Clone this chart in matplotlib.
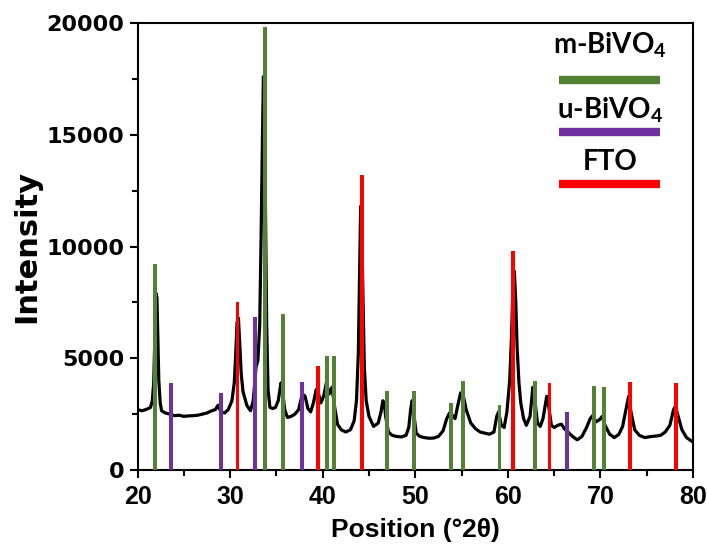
import numpy as np
import matplotlib
matplotlib.use("Agg")
import matplotlib.pyplot as plt
from matplotlib.ticker import MultipleLocator

plt.rcParams['mathtext.fontset'] = 'custom'
plt.rcParams['mathtext.rm'] = 'Lato:bold'
plt.rcParams['mathtext.bf'] = 'Lato:bold'

# measured pattern (2theta, counts)
two_theta = [20.0, 20.5, 21.0, 21.4, 21.6, 21.75, 21.85, 22.0, 22.1, 22.2, 22.3, 22.45, 22.6,
             23.0, 23.5, 24.0, 24.5, 25.0, 25.5, 26.0, 26.5, 27.0, 27.5, 28.0, 28.4, 28.7,
             29.0, 29.4, 29.8, 30.2, 30.45, 30.6, 30.75, 30.9, 31.05, 31.2, 31.4, 31.8, 32.2,
             32.5, 32.8, 33.0, 33.2, 33.35, 33.5, 33.6, 33.7, 33.8, 33.95, 34.1, 34.3, 34.6,
             34.9, 35.2, 35.5, 35.65, 35.9, 36.2, 36.6, 37.0, 37.4, 37.8, 38.1, 38.4, 38.7,
             39.0, 39.3, 39.5, 39.8, 40.1, 40.4, 40.7, 41.0, 41.3, 41.6, 42.0, 42.5, 43.0,
             43.4, 43.65, 43.85, 44.0, 44.1, 44.2, 44.35, 44.5, 44.7, 45.0, 45.5, 46.0, 46.3,
             46.5, 46.65, 46.8, 47.1, 47.5, 48.0, 48.5, 49.0, 49.3, 49.5, 49.65, 49.85, 50.1,
             50.5, 51.0, 51.5, 52.0, 52.5, 53.0, 53.4, 53.7, 54.0, 54.3, 54.6, 54.9, 55.2,
             55.5, 56.0, 56.5, 57.0, 57.5, 58.0, 58.5, 58.8, 59.0, 59.3, 59.6, 59.9, 60.2,
             60.4, 60.55, 60.7, 60.85, 61.0, 61.2, 61.4, 61.7, 62.0, 62.4, 62.7, 62.9, 63.2,
             63.5, 63.8, 64.2, 64.4, 64.7, 65.0, 65.4, 65.8, 66.1, 66.5, 67.0, 67.5, 68.0,
             68.5, 68.9, 69.2, 69.5, 69.9, 70.2, 70.5, 71.0, 71.5, 72.0, 72.4, 72.8, 73.05,
             73.3, 73.7, 74.2, 74.8, 75.5, 76.0, 76.5, 77.0, 77.5, 77.9, 78.1, 78.4, 78.8,
             79.3, 80.0]
counts = [2700, 2650, 2720, 2800, 3100, 3900, 5600, 7900, 7700, 5800, 4000, 3000, 2650,
          2550, 2500, 2430, 2450, 2400, 2420, 2430, 2450, 2500, 2550, 2650, 2700, 2900,
          2600, 2550, 2700, 3100, 3900, 5100, 6600, 6800, 5600, 4300, 3500, 2900, 2650,
          3100, 4600, 4900, 6500, 10500, 15000, 17600, 16800, 12500, 6500, 3600, 2800, 2750,
          2800, 3100, 3900, 3600, 2700, 2350, 2400, 2500, 2700, 3400, 3300, 2750, 2600,
          3000, 3600, 3500, 3000, 3300, 3900, 3400, 3700, 2800, 2050, 1800, 1700, 1800,
          2200, 3100, 5200, 9000, 11800, 11400, 7800, 4600, 3100, 2400, 1950, 2100, 2600,
          3100, 3000, 2400, 1700, 1550, 1500, 1480, 1550, 1900, 2700, 3100, 2500, 1650,
          1500, 1450, 1420, 1430, 1500, 1750, 2300, 2550, 2450, 2300, 2900, 3450, 3300,
          2700, 2100, 1850, 1700, 1650, 1600, 1700, 2400, 2600, 2000, 1900, 2600, 4000,
          6000, 8200, 8900, 7600, 5500, 3900, 3000, 2300, 2000, 2400, 3700, 3200, 2100,
          1950, 2300, 3300, 2900, 2000, 1900, 2000, 2050, 1850, 1700, 1500, 1350, 1500,
          1900, 2300, 2450, 2150, 2250, 2400, 2000, 1600, 1450, 1600, 1950, 2800, 3300,
          2600, 1800, 1550, 1450, 1500, 1520, 1550, 1700, 2000, 2700, 2850, 2400, 1800,
          1450, 1250]

# reference line positions and intensities
m_pos = [21.9, 33.8, 35.7, 40.5, 41.25, 46.9, 49.9, 53.85, 55.2, 59.1, 62.9, 69.3, 70.4]
m_int = [9200, 19800, 7000, 5100, 5100, 3550, 3550, 3000, 4000, 2900, 4000, 3750, 3700]
u_pos = [23.6, 29.0, 32.7, 37.8, 66.35]
u_int = [3900, 3450, 6850, 3950, 2580]
fto_pos = [30.8, 39.5, 44.2, 60.6, 64.5, 73.2, 78.2]
fto_int = [7500, 4650, 13200, 9800, 3900, 3950, 3900]

c_m, c_u, c_fto = '#548235', '#7030A0', '#FF0000'

fig = plt.figure(figsize=(7.07, 5.49), dpi=100)
ax = fig.add_axes([0.1945, 0.1439, 0.7857, 0.8142])

ax.plot(two_theta, counts, color='black', lw=2.3, zorder=2)
bw = 0.42
ax.bar(m_pos, m_int, width=bw, color=c_m, zorder=3)
ax.bar(u_pos, u_int, width=bw, color=c_u, zorder=3)
ax.bar(fto_pos, fto_int, width=bw, color=c_fto, zorder=3)

ax.set_xlim(20, 80)
ax.set_ylim(0, 20000)
ax.xaxis.set_major_locator(MultipleLocator(10))
ax.xaxis.set_minor_locator(MultipleLocator(5))
ax.yaxis.set_major_locator(MultipleLocator(5000))
ax.yaxis.set_minor_locator(MultipleLocator(2500))
ax.tick_params(which='major', direction='out', length=6, width=1.5)
ax.tick_params(which='minor', direction='out', length=4, width=1.5)
ax.tick_params(axis='x', pad=5)
for sp in ax.spines.values():
    sp.set_linewidth(1.5)

for lab in ax.get_yticklabels():
    lab.set_family('DejaVu Sans')
    lab.set_fontweight('bold')
    lab.set_fontsize(16)
for lab in ax.get_xticklabels():
    lab.set_family('Liberation Sans')
    lab.set_fontweight('bold')
    lab.set_fontsize(18)

ax.set_xlabel('Position (°2θ)', family='Liberation Sans', fontweight='bold', fontsize=19, labelpad=6)
ax.set_ylabel('Intensity', family='DejaVu Sans', fontweight='bold', fontsize=22, labelpad=4)

# legend: label above a thick colour bar
keys = [('m-BiVO$_4$', c_m, 0.951, 0.872),
        ('u-BiVO$_4$', c_u, 0.805, 0.756),
        ('FTO', c_fto, 0.690, 0.640)]
for label, col, ty, ly in keys:
    ax.text(0.851, ty, label, transform=ax.transAxes, ha='center', va='center',
            family='Lato', fontweight='bold', fontsize=20)
    ax.plot([0.759, 0.941], [ly, ly], transform=ax.transAxes, color=col, lw=6,
            solid_capstyle='butt', zorder=4)

fig.savefig('out.png', dpi=100)
